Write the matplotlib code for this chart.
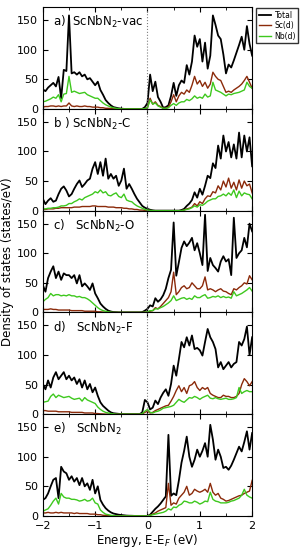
import numpy as np
import matplotlib
matplotlib.use('Agg')
import matplotlib.pyplot as plt
from matplotlib.ticker import MultipleLocator

# energy grid (eV), 0.05 eV steps
energy = np.linspace(-2, 2, 81)

panel_labels = ['a)  ScNbN$_2$-vac', 'b ) ScNbN$_2$-C', 'c)   ScNbN$_2$-O',
                'd)   ScNbN$_2$-F', 'e)   ScNbN$_2$']

total_a = [33, 30, 36, 40, 44, 38, 54, 18, 66, 64, 158, 60, 62, 58, 62, 55, 58, 50, 52, 46,
           40, 46, 32, 24, 15, 10, 6, 3, 2, 1, 0.5, 0, 0, 0, 0, 0, 0, 0, 0, 3,
           10, 58, 30, 46, 20, 12, 2, 3, 6, 22, 44, 22, 40, 48, 44, 74, 58, 80, 124, 105,
           118, 80, 112, 68, 90, 158, 142, 124, 118, 92, 60, 75, 70, 82, 95, 108, 122, 100, 140, 110, 90]
sc_a = [3, 4, 4, 5, 5, 4, 5, 4, 5, 5, 10, 5, 4, 5, 4, 4, 5, 4, 4, 3,
        3, 3, 2, 2, 1, 1, 0.5, 0.3, 0, 0, 0, 0, 0, 0, 0, 0, 0, 0, 0, 0.5,
        2, 18, 8, 12, 6, 4, 1, 1, 3, 12, 24, 12, 22, 28, 25, 32, 28, 40, 55, 42,
        48, 38, 45, 35, 42, 62, 55, 50, 48, 38, 28, 30, 28, 32, 35, 38, 42, 48, 55, 45, 35]
nb_a = [12, 13, 15, 17, 20, 18, 24, 12, 25, 26, 55, 28, 30, 28, 26, 27, 28, 24, 22, 20,
        18, 18, 14, 10, 7, 5, 3, 2, 1, 0.5, 0, 0, 0, 0, 0, 0, 0, 0, 0, 0.5,
        2, 15, 8, 10, 5, 3, 1, 1, 2, 6, 9, 6, 10, 12, 12, 16, 14, 17, 22, 18,
        20, 18, 25, 20, 22, 45, 32, 30, 28, 25, 22, 25, 24, 26, 27, 28, 30, 32, 45, 38, 35]

total_b = [20, 11, 17, 21, 15, 17, 28, 37, 41, 34, 24, 28, 37, 45, 51, 40, 45, 51, 54, 71,
           82, 62, 82, 59, 88, 54, 62, 54, 59, 42, 51, 71, 37, 45, 37, 28, 20, 14, 8, 5,
           3, 1.5, 0.5, 0, 0, 0, 0, 0, 0, 0, 0, 0, 0, 1, 3, 8, 12, 18, 31, 22,
           37, 27, 42, 59, 55, 80, 72, 110, 88, 127, 100, 116, 90, 112, 88, 132, 90, 127, 100, 124, 75]
sc_b = [2, 2, 3, 3, 3, 4, 4, 5, 5, 5, 5, 5, 6, 6, 6, 7, 7, 7, 7, 8,
        8, 7, 7, 7, 7, 6, 6, 6, 5, 5, 5, 4, 4, 3, 3, 2, 2, 1, 1, 0.5,
        0.3, 0, 0, 0, 0, 0, 0, 0, 0, 0, 0, 0, 0, 0, 1, 3, 4, 6, 12, 8,
        15, 12, 20, 25, 24, 32, 30, 42, 35, 50, 40, 55, 38, 48, 35, 52, 38, 50, 42, 45, 30]
nb_b = [3, 3, 4, 4, 5, 5, 6, 8, 8, 9, 12, 12, 15, 17, 20, 18, 22, 24, 26, 28,
        32, 30, 35, 30, 32, 26, 25, 28, 30, 24, 22, 28, 18, 16, 15, 11, 8, 6, 4, 2,
        1, 0.5, 0, 0, 0, 0, 0, 0, 0, 0, 0, 0, 0, 0, 1, 2, 3, 5, 8, 6,
        10, 9, 12, 16, 18, 20, 20, 24, 25, 28, 25, 30, 26, 35, 22, 33, 25, 30, 28, 27, 20]

total_c = [46, 35, 58, 69, 78, 58, 69, 55, 66, 63, 63, 58, 63, 49, 63, 44, 49, 44, 38, 49,
           32, 24, 15, 10, 6, 3, 1.5, 0.5, 0.3, 0, 0, 0, 0, 0, 0, 0, 0, 0, 0.5, 3,
           6, 12, 10, 24, 18, 22, 29, 40, 58, 72, 152, 62, 85, 109, 120, 112, 118, 126, 105, 117,
           100, 80, 165, 70, 92, 80, 75, 69, 86, 95, 86, 90, 63, 160, 92, 100, 105, 126, 110, 150, 137]
sc_c = [5, 5, 5, 6, 5, 5, 4, 4, 4, 4, 4, 3, 3, 3, 3, 3, 2, 2, 2, 2,
        2, 1, 1, 0.5, 0.3, 0, 0, 0, 0, 0, 0, 0, 0, 0, 0, 0, 0, 0, 0, 0.5,
        1, 2, 3, 8, 6, 10, 15, 20, 25, 35, 68, 30, 35, 42, 45, 40, 42, 50, 45, 40,
        40, 45, 60, 38, 40, 38, 35, 38, 40, 36, 35, 32, 30, 40, 38, 42, 45, 50, 48, 62, 55]
nb_c = [18, 22, 25, 32, 28, 30, 30, 28, 29, 28, 30, 28, 28, 26, 27, 25, 25, 23, 20, 16,
        12, 8, 5, 3, 2, 1, 0.5, 0, 0, 0, 0, 0, 0, 0, 0, 0, 0, 0, 0, 0.3,
        1, 3, 3, 6, 6, 8, 10, 13, 16, 20, 28, 20, 22, 24, 25, 22, 24, 22, 28, 25,
        25, 28, 30, 24, 25, 27, 26, 28, 25, 27, 25, 26, 24, 35, 28, 30, 32, 35, 38, 42, 36]

total_d = [51, 42, 57, 45, 62, 71, 59, 65, 71, 59, 65, 57, 62, 51, 59, 45, 57, 42, 51, 37,
           45, 31, 20, 14, 10, 6, 3, 1.5, 1, 0.5, 0, 0, 0, 0, 0, 0, 0, 0, 3, 24,
           20, 8, 11, 23, 17, 28, 36, 42, 31, 51, 82, 65, 93, 122, 113, 130, 116, 133, 110, 112,
           108, 99, 122, 144, 130, 122, 110, 79, 88, 76, 82, 88, 79, 85, 88, 122, 116, 127, 148, 100, 130]
sc_d = [6, 6, 5, 5, 5, 5, 4, 4, 4, 4, 4, 3, 3, 3, 3, 3, 2, 2, 2, 2,
        1, 1, 0.5, 0.3, 0, 0, 0, 0, 0, 0, 0, 0, 0, 0, 0, 0, 0, 0, 0.5, 3,
        5, 2, 3, 6, 8, 10, 12, 14, 15, 22, 30, 40, 48, 38, 45, 35, 48, 50, 55, 45,
        40, 45, 42, 45, 35, 32, 30, 28, 28, 32, 30, 30, 28, 28, 30, 35, 50, 60, 55, 48, 55]
nb_d = [20, 21, 22, 30, 34, 28, 32, 30, 28, 29, 30, 27, 25, 26, 27, 22, 28, 24, 22, 20,
        18, 12, 8, 5, 3, 2, 1, 0.5, 0, 0, 0, 0, 0, 0, 0, 0, 0, 0, 1, 5,
        8, 3, 2, 4, 5, 7, 10, 11, 12, 13, 15, 20, 25, 22, 20, 24, 28, 27, 30, 28,
        25, 28, 30, 32, 27, 26, 28, 26, 25, 26, 27, 25, 25, 26, 28, 45, 35, 38, 40, 38, 38]

total_e = [27, 30, 38, 50, 61, 64, 30, 83, 75, 72, 61, 67, 58, 64, 52, 64, 50, 55, 44, 61,
           38, 50, 27, 19, 13, 9, 6, 4, 3, 2, 1.5, 1, 0.5, 0.3, 0.2, 0, 0, 0, 0, 0,
           0, 2, 7, 12, 16, 21, 27, 33, 137, 34, 38, 35, 60, 90, 110, 134, 100, 83, 95, 112,
           100, 110, 123, 100, 154, 129, 95, 112, 100, 81, 83, 78, 85, 95, 106, 117, 109, 125, 143, 112, 140]
sc_e = [5, 5, 6, 5, 5, 6, 5, 6, 5, 5, 5, 5, 4, 5, 4, 4, 4, 4, 3, 3,
        3, 2, 2, 1, 1, 0.5, 0.3, 0, 0, 0, 0, 0, 0, 0, 0, 0, 0, 0, 0, 0,
        0, 1, 3, 5, 8, 10, 12, 14, 55, 18, 22, 20, 30, 35, 40, 50, 35, 38, 45, 42,
        40, 42, 45, 40, 55, 40, 35, 38, 30, 28, 25, 26, 28, 30, 32, 34, 35, 38, 40, 42, 60]
nb_e = [8, 10, 12, 18, 25, 30, 20, 38, 32, 30, 30, 28, 28, 27, 25, 26, 28, 25, 26, 30,
        22, 20, 10, 6, 3, 2, 1, 0.5, 0, 0, 0, 0, 0, 0, 0, 0, 0, 0, 0, 0,
        0, 1, 2, 3, 4, 5, 6, 8, 12, 10, 15, 14, 18, 20, 25, 24, 22, 22, 25, 23,
        20, 22, 25, 24, 40, 28, 25, 24, 22, 22, 22, 23, 25, 26, 28, 30, 35, 45, 35, 32, 30]

totals = [total_a, total_b, total_c, total_d, total_e]
scs = [sc_a, sc_b, sc_c, sc_d, sc_e]
nbs = [nb_a, nb_b, nb_c, nb_d, nb_e]

fig, axes = plt.subplots(5, 1, figsize=(3.06, 5.5), dpi=100, sharex=True)
fig.subplots_adjust(left=0.14, right=0.824, top=0.987, bottom=0.062, hspace=0)

for i, ax in enumerate(axes):
    l1, = ax.plot(energy, totals[i], color='black', lw=1.3, label='Total')
    l2, = ax.plot(energy, scs[i], color='#8b2a0a', lw=1.0, label='Sc(d)')
    l3, = ax.plot(energy, nbs[i], color='#3ec81e', lw=1.0, label='Nb(d)')
    ax.axvline(0, color='gray', ls=':', lw=0.8)
    ax.set_xlim(-2, 2)
    ax.set_ylim(0, 172)
    ax.set_yticks([0, 50, 100, 150])
    ax.xaxis.set_major_locator(MultipleLocator(1))
    ax.xaxis.set_minor_locator(MultipleLocator(0.5))
    ax.tick_params(which='both', direction='in', top=True, right=True, labelsize=8)
    ax.tick_params(which='major', length=3.5)
    ax.tick_params(which='minor', length=2)
    ax.text(0.05, 0.85, panel_labels[i], transform=ax.transAxes, fontsize=8.5, va='center')

axes[-1].set_xticks([-2, -1, 0, 1, 2])
axes[-1].set_xlabel('Energy, E-E$_F$ (eV)', fontsize=8.5, labelpad=1)
fig.text(0.025, 0.525, 'Density of states (states/eV)', rotation=90, va='center', ha='center', fontsize=8.5)

fig.legend(handles=[l1, l2, l3], loc='upper right', bbox_to_anchor=(0.975, 0.985),
           fontsize=5.5, frameon=True, fancybox=False, edgecolor='black',
           handlelength=1.6, handletextpad=0.5, borderpad=0.3, labelspacing=0.2,
           borderaxespad=0)

fig.savefig('out.png', dpi=100)
